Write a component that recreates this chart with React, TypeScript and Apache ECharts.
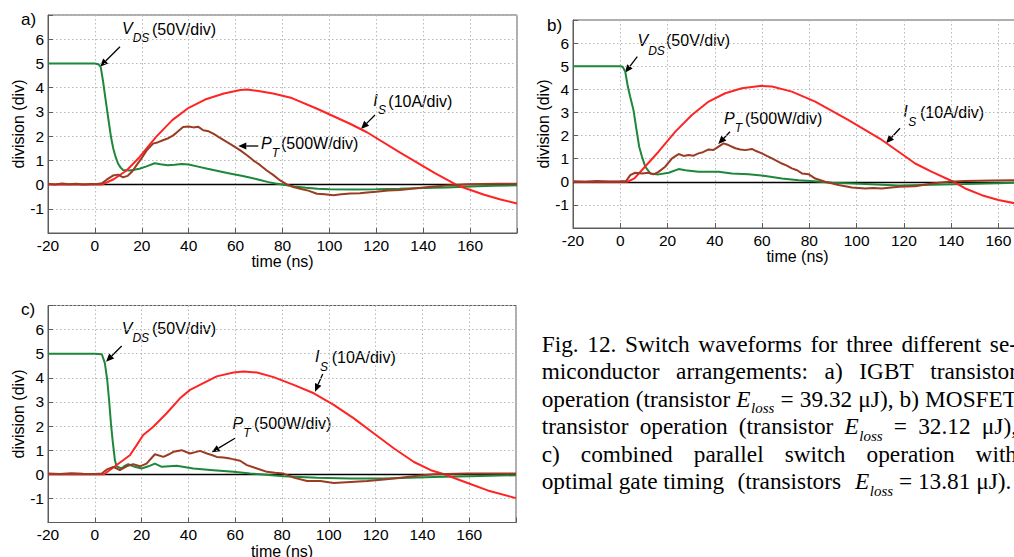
import React, { useEffect, useRef } from 'react';
import * as echarts from 'echarts';

// ---------- data: [time (ns), division] ----------
const vdsA: [number, number][] = [[-20,5.0],[-10,5.0],[0,5.0],[1.5,4.97],[2.5,4.85],[3.5,4.25],[4.5,3.55],[5.6,2.8],[6.8,2.0],[7.8,1.5],[8.8,1.15],[9.9,0.86],[11,0.7],[12,0.6],[15,0.58],[19,0.65],[22,0.75],[25.5,0.88],[28,0.84],[31,0.8],[34,0.82],[37,0.85],[40,0.83],[44,0.74],[48,0.65],[53,0.55],[58,0.45],[62,0.37],[66,0.29],[70,0.2],[74,0.1],[77,0.04],[80,0.0],[85,-0.08],[90,-0.13],[95,-0.17],[100,-0.19],[110,-0.2],[120,-0.19],[130,-0.17],[140,-0.14],[150,-0.12],[160,-0.08],[170,-0.05],[180,-0.03]];
const isA: [number, number][] = [[-20,0],[0,0],[3,0],[8,0.22],[13.5,0.58],[19,1.13],[26,1.96],[33,2.66],[40,3.17],[47,3.51],[55,3.76],[62,3.9],[65,3.92],[69,3.87],[76,3.76],[84,3.57],[95,3.12],[109,2.5],[116,2.16],[130,1.33],[145,0.47],[155,-0.05],[166,-0.42],[173,-0.62],[180,-0.78]];
const ptA: [number, number][] = [[-20,0.03],[-17,0.0],[-14,0.04],[-11,0.01],[-8,0.03],[-5,0.0],[-2,0.02],[1,0.02],[3,0.05],[5,0.2],[7.7,0.37],[9.9,0.41],[12,0.3],[14,0.36],[16,0.55],[17.7,0.79],[20,1.1],[22,1.4],[24.8,1.69],[27,1.75],[29,1.83],[31,1.9],[33.4,2.03],[35.5,2.2],[37.6,2.38],[40,2.4],[42,2.36],[44,2.39],[46.2,2.24],[48.5,2.2],[50.5,2.1],[53,1.95],[56.2,1.76],[59,1.6],[62,1.41],[65,1.2],[67.5,1.0],[70.5,0.8],[73.3,0.58],[76,0.4],[79,0.17],[82,0.0],[84.6,-0.1],[88,-0.18],[91,-0.25],[94.7,-0.38],[98,-0.4],[101.8,-0.44],[105,-0.4],[109,-0.37],[113,-0.36],[116,-0.33],[120,-0.3],[125,-0.25],[130,-0.22],[137,-0.15],[144.6,-0.08],[152,-0.03],[158.8,0.01],[165,0.02],[172,0.03],[180,0.03]];

const vdsB: [number, number][] = [[-20,5],[-10,5],[0,5],[1,4.98],[2.1,4.77],[3.2,4.12],[4.2,3.68],[5.6,3.1],[7.1,2.1],[8,1.52],[9.2,1.08],[10.6,0.65],[12.7,0.36],[16.2,0.32],[20.5,0.39],[24.7,0.55],[27.5,0.5],[33,0.43],[41.6,0.43],[47.2,0.36],[54.3,0.33],[61.4,0.25],[68.4,0.14],[75.5,0.07],[82,0.02],[89.6,-0.04],[103.7,-0.1],[117.8,-0.16],[131.9,-0.13],[146,-0.1],[160,-0.06],[170,-0.04]];
const isB: [number, number][] = [[-20,0],[0,0],[3,0],[6,0.15],[9.2,0.51],[16.2,1.3],[23.3,2.17],[30.3,2.89],[37.4,3.47],[44.4,3.83],[51.5,4.05],[59.9,4.15],[64.2,4.12],[72.6,3.9],[82.5,3.47],[96.6,2.67],[110.7,1.81],[117.8,1.3],[124.8,0.79],[131.9,0.43],[141,0],[146,-0.29],[153,-0.58],[160,-0.79],[167.4,-0.94],[170,-0.98]];
const ptB: [number, number][] = [[-20,0.02],[-15,0.0],[-10,0.03],[-5,0.01],[0,0.02],[2.5,0.03],[4.2,0.29],[6.3,0.39],[9.2,0.36],[12,0.39],[14.1,0.32],[16.2,0.43],[19,0.65],[21.9,1.01],[24.7,1.2],[26.8,1.12],[28.9,1.16],[31,1.13],[33.1,1.23],[35,1.28],[37.4,1.4],[39.5,1.38],[41.6,1.52],[43.7,1.66],[45.8,1.59],[48.7,1.45],[50.8,1.4],[52.9,1.37],[55.7,1.42],[57.5,1.33],[59.9,1.23],[62,1.12],[64.2,1.01],[68.4,0.79],[70.5,0.7],[72.6,0.58],[74.8,0.5],[76.9,0.36],[79.7,0.33],[82.5,0.14],[86.7,0.0],[92.4,-0.14],[98,-0.25],[103.7,-0.29],[107,-0.27],[110.7,-0.29],[117.8,-0.22],[124.8,-0.19],[131.9,-0.07],[139,0.0],[146,0.03],[157,0.05],[167.4,0.07],[170,0.07]];

const vdsC: [number, number][] = [[-20,5],[-10,5],[0,5],[3,4.98],[4.3,4.61],[5.3,3.92],[6.1,3.08],[6.9,2.11],[7.6,1.42],[8.6,0.58],[9.3,0.33],[11.4,0.24],[12.8,0.35],[14.3,0.42],[15.7,0.36],[17.1,0.31],[20,0.24],[22.9,0.33],[25.7,0.44],[28.6,0.31],[35,0.35],[42.1,0.24],[50.7,0.17],[59.3,0.1],[66.4,0.03],[80.7,-0.08],[95,-0.14],[109.3,-0.18],[123.6,-0.18],[145,-0.11],[160,-0.08],[180,-0.04]];
const isC: [number, number][] = [[-20,0],[0,0],[4,0],[7.9,0.28],[12.1,0.58],[15,0.79],[17.9,1.21],[20.7,1.63],[25,1.97],[30.7,2.53],[36.4,3.15],[40.7,3.5],[46.4,3.78],[52.1,4.06],[59.3,4.22],[63.6,4.26],[69.3,4.22],[76.4,4.03],[85,3.71],[93.6,3.36],[102.1,2.88],[110.7,2.32],[119.3,1.69],[127.9,1.07],[136.4,0.51],[143.6,0.17],[149.3,0],[159.3,-0.36],[167.9,-0.67],[180,-0.99]];
const ptC: [number, number][] = [[-20,0.03],[-15,0.01],[-10,0.04],[-5,0.02],[0,0.01],[3,0.03],[5,0.19],[7.9,0.31],[10.7,0.17],[13.6,0.33],[16.4,0.42],[19.3,0.33],[22.1,0.44],[25.7,0.83],[29.3,0.72],[31.5,0.82],[33.6,0.93],[37.1,1.0],[40.7,0.86],[43,0.92],[45,0.97],[47.9,0.86],[50,0.8],[52.1,0.72],[55,0.7],[57.9,0.65],[62.1,0.56],[65,0.38],[69.3,0.24],[73.6,0.1],[77,0.06],[80.7,0.03],[85,-0.14],[90.7,-0.28],[96.4,-0.28],[102.1,-0.36],[109.3,-0.32],[116.4,-0.28],[123.6,-0.22],[130.7,-0.14],[137.9,-0.06],[145,0.0],[159.3,0.03],[180,0.03]];

const xTitle = 'time (ns)';
const yTitle = 'division (div)';
const panelLabels = ['a)', 'b)', 'c)'];

const captionLines: string[][] = [
  ['Fig.', '12.', 'Switch', 'waveforms', 'for', 'three', 'different', 'se-'],
  ['miconductor', 'arrangements:', 'a)', 'IGBT', 'transistor'],
  ['operation', '(transistor', 'E_loss', '=', '39.32', 'μJ),', 'b)', 'MOSFET'],
  ['transistor', 'operation', '(transistor', 'E_loss', '=', '32.12', 'μJ),'],
  ['c)', 'combined', 'parallel', 'switch', 'operation', 'with'],
];
const captionLast: string[] = ['optimal', 'gate', 'timing', '(transistors', 'E_loss', '=', '13.81', 'μJ).'];

// ---------- styling ----------
const C_VDS = '#1d873a';
const C_IS = '#ff2424';
const C_PT = '#9c3b24';
const FRAME = '#5c5c5c';
const SANS = '"Liberation Sans", Arial, sans-serif';
const SERIF = '"Liberation Serif", "Times New Roman", serif';

const panels = [
  { left: 48, top: 15, width: 469, height: 218, xMax: 180, vds: vdsA, is: isA, pt: ptA, lab: [21, 19.5], nameGap: 18 },
  { left: 573, top: 20, width: 449, height: 208, xMax: 170, vds: vdsB, is: isB, pt: ptB, lab: [547, 25], nameGap: 18.5 },
  { left: 48, top: 305.5, width: 468, height: 217, xMax: 180, vds: vdsC, is: isC, pt: ptC, lab: [21, 309], nameGap: 15.5 },
];

// annotation layout: [main, sub, rest, x, y, subDx, subDy, restX, arrow x1,y1,x2,y2]
const annots: any[] = [
  ['V', 'DS', '(50V/div)', 122, 28.5, 10.7, 9, 152, 120, 46.7, 100, 66.7],
  ['I', 'S', '(10A/div)', 373.3, 100.5, 4.8, 9.5, 388.3, 375, 115, 361, 129],
  ['P', 'T', '(500W/div)', 261, 143, 10.8, 10, 281, 258.3, 146, 238.3, 146],
  ['V', 'DS', '(50V/div)', 637.5, 40, 10.7, 10.5, 666, 637.3, 56.7, 625, 72.7],
  ['P', 'T', '(500W/div)', 724, 118, 10.8, 10, 745, 730, 131.7, 718.3, 144],
  ['I', 'S', '(10A/div)', 903.3, 111.7, 5, 10, 920, 900, 128.3, 886, 143.3],
  ['V', 'DS', '(50V/div)', 121.7, 328.3, 10.7, 10, 152, 121.7, 346, 106, 361.7],
  ['I', 'S', '(10A/div)', 315, 356.7, 5, 10, 331.7, 322.7, 374, 315, 391.7],
  ['P', 'T', '(500W/div)', 232.5, 423.3, 10.8, 10, 254, 235, 438.3, 211.7, 452.3],
];

function txt(text: string, x: number, y: number, size: number, family: string, italic = false) {
  return {
    type: 'text', x, y, silent: true,
    style: { text, fontSize: size, fontFamily: family, fontStyle: italic ? 'italic' : 'normal', fill: '#000', align: 'left', verticalAlign: 'middle' },
  };
}

function arrow(x1: number, y1: number, x2: number, y2: number) {
  const dx = x2 - x1, dy = y2 - y1, L = Math.hypot(dx, dy), ux = dx / L, uy = dy / L;
  const hl = 8, hw = 3.5;
  const bx = x2 - ux * hl, by = y2 - uy * hl;
  return [
    { type: 'line', silent: true, shape: { x1, y1, x2: bx, y2: by }, style: { stroke: '#000', lineWidth: 1.3 } },
    { type: 'polygon', silent: true, shape: { points: [[x2, y2], [bx - uy * hw, by + ux * hw], [bx + uy * hw, by - ux * hw]] }, style: { fill: '#000' } },
  ];
}

export default function App() {
  const ref = useRef<HTMLDivElement>(null);
  useEffect(() => {
    const el = ref.current!;
    const chart = echarts.init(el, null, { renderer: 'svg' });

    const cv = document.createElement('canvas');
    const ctx = cv.getContext('2d')!;
    const CAP = 23.3, SUB = 15, SUBGAP = 0.5;
    const measure = (t: string, size: number, italic = false) => {
      ctx.font = `${italic ? 'italic ' : ''}${size}px "Liberation Serif"`;
      return ctx.measureText(t).width;
    };
    const tokW = (t: string) => (t === 'E_loss' ? measure('E', CAP, true) + SUBGAP + measure('loss', SUB, true) : measure(t, CAP));
    const capX0 = 541.7, capR = 1017, base0 = 351.6, lineStep = 27.55;
    const graphics: any[] = [];
    const placeTok = (t: string, x: number, baseline: number) => {
      const yMid = baseline - 0.34 * CAP;
      if (t === 'E_loss') {
        graphics.push(txt('E', x, yMid, CAP, SERIF, true));
        const ew = measure('E', CAP, true);
        graphics.push(txt('loss', x + ew + SUBGAP, baseline + 6.5 - 0.34 * SUB, SUB, SERIF, true));
      } else {
        graphics.push(txt(t, x, yMid, CAP, SERIF));
      }
    };
    captionLines.forEach((words, i) => {
      const baseline = base0 + i * lineStep;
      const widths = words.map(tokW);
      const total = widths.reduce((a, b) => a + b, 0);
      const gap = (capR - capX0 - total) / (words.length - 1);
      let x = capX0;
      words.forEach((w, j) => { placeTok(w, x, baseline); x += widths[j] + gap; });
    });
    {
      const baseline = base0 + 5 * lineStep;
      const sp = measure(' ', CAP);
      const gaps = [1, 1, 2.3, 2.4, 1, 1, 1];
      let x = capX0;
      captionLast.forEach((w, j) => {
        placeTok(w, x, baseline);
        x += tokW(w) + (j < gaps.length ? gaps[j] * sp : 0);
      });
    }

    panels.forEach((p, i) => graphics.push(txt(panelLabels[i], p.lab[0], p.lab[1], 17, SANS)));
    annots.forEach((a) => {
      const [m, s, r, x, y, sdx, sdy, rx, ax1, ay1, ax2, ay2] = a;
      graphics.push(txt(m, x, y, 16, SANS, true));
      graphics.push(txt(s, x + sdx, y + sdy, 12, SANS, true));
      graphics.push(txt(r, rx, y + 0.5, 16, SANS));
      graphics.push(...arrow(ax1, ay1, ax2, ay2));
    });

    const grid = panels.map((p) => ({
      left: p.left, top: p.top, width: p.width, height: p.height,
      containLabel: false, outerBoundsMode: 'none',
      show: true, borderColor: FRAME, borderWidth: 1, backgroundColor: '#fff',
    }));
    const xAxis = panels.map((p, i) => ({
      type: 'value', gridIndex: i, min: -20, max: p.xMax, interval: 20,
      name: xTitle, nameLocation: 'middle', nameGap: p.nameGap,
      nameTextStyle: { color: '#000', fontSize: 16, fontFamily: SANS },
      axisLine: { show: true, onZero: false, lineStyle: { color: FRAME, width: 1 } },
      axisTick: { show: true, inside: true, length: 5, lineStyle: { color: FRAME } },
      axisLabel: { color: '#000', fontSize: 15.5, fontFamily: SANS, margin: 4, formatter: (v: number) => (v >= 170 ? '' : String(v)) },
      splitLine: { show: true, lineStyle: { color: '#b8b8b8', type: [1.5, 2.5], width: 1 } },
    }));
    const yAxis = panels.map((p, i) => ({
      type: 'value', gridIndex: i, min: -2, max: 7, interval: 1,
      name: yTitle, nameLocation: 'middle', nameGap: 20,
      nameTextStyle: { color: '#000', fontSize: 16, fontFamily: SANS },
      axisLine: { show: true, onZero: false, lineStyle: { color: FRAME, width: 1 } },
      axisTick: { show: true, inside: true, length: 5, lineStyle: { color: FRAME } },
      axisLabel: { color: '#000', fontSize: 15.5, fontFamily: SANS, margin: 4, formatter: (v: number) => (v === -2 || v === 7 ? '' : String(v)) },
      splitLine: { show: true, lineStyle: { color: '#b8b8b8', type: [1.5, 2.5], width: 1 } },
    }));
    const series: any[] = [];
    panels.forEach((p, i) => {
      series.push({
        type: 'line', name: 'VDS', xAxisIndex: i, yAxisIndex: i, data: p.vds, showSymbol: false, symbol: 'none',
        lineStyle: { color: C_VDS, width: 2 }, z: 3,
        markLine: { silent: true, symbol: 'none', label: { show: false }, lineStyle: { color: '#000', type: 'solid', width: 1.3 }, data: [{ yAxis: 0 }], z: 2 },
      });
      series.push({ type: 'line', name: 'IS', xAxisIndex: i, yAxisIndex: i, data: p.is, showSymbol: false, symbol: 'none', lineStyle: { color: C_IS, width: 2 }, z: 4 });
      series.push({ type: 'line', name: 'PT', xAxisIndex: i, yAxisIndex: i, data: p.pt, showSymbol: false, symbol: 'none', lineStyle: { color: C_PT, width: 2 }, z: 5 });
    });

    chart.setOption({
      animation: false,
      backgroundColor: '#fff',
      grid, xAxis, yAxis, series,
      graphic: { elements: graphics },
    });
    return () => chart.dispose();
  }, []);
  return <div ref={ref} style={{ position: 'fixed', left: 0, top: 0, width: 1014, height: 557, background: '#fff' }} />;
}
